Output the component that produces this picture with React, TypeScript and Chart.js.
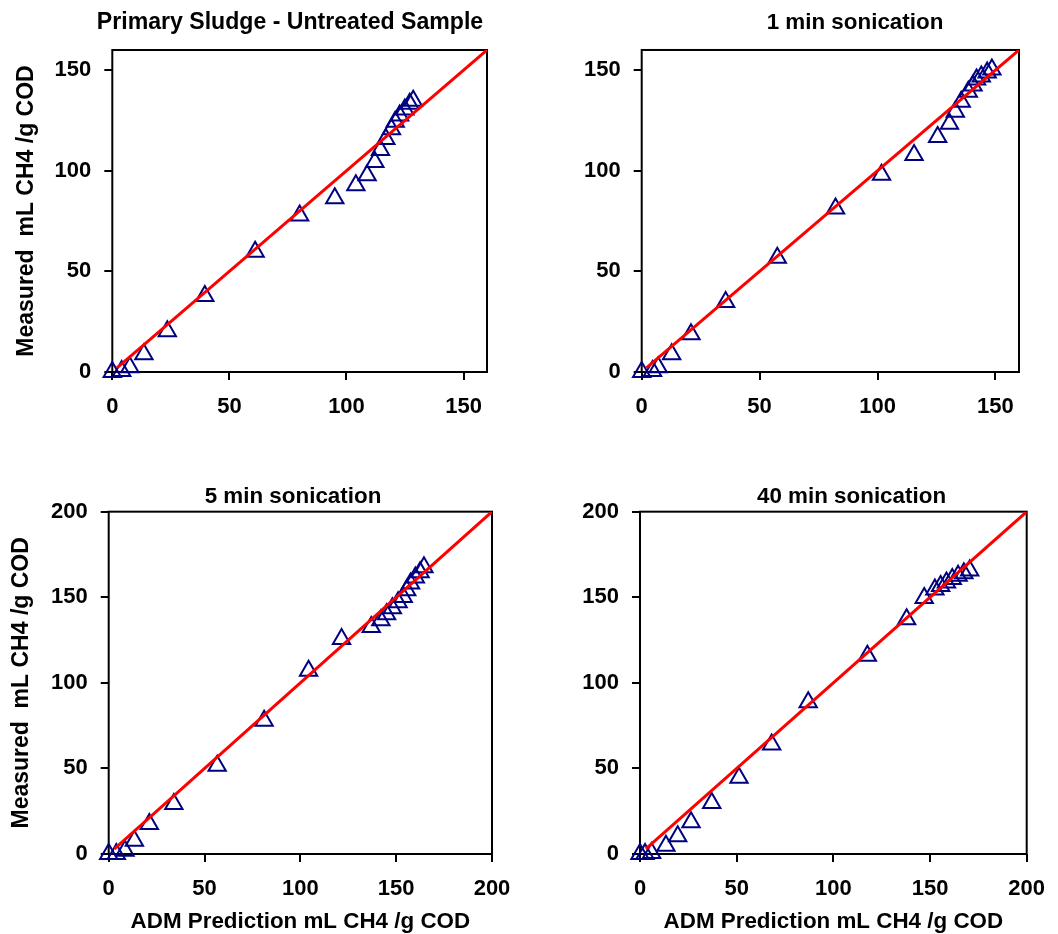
import React, { useEffect, useRef } from "react";
import { Chart, registerables } from "chart.js";

Chart.register(...registerables);

// ---------- text ----------
const panelTitles = [
  "Primary Sludge - Untreated Sample",
  "1 min sonication",
  "5 min sonication",
  "40 min sonication",
];
const yAxisTitle = "Measured  mL CH4 /g COD";
const xAxisTitle = "ADM Prediction mL CH4 /g COD";

// ---------- tick labels / axis ranges ----------
const ticksTopRow = [0, 50, 100, 150];
const ticksBottomRow = [0, 50, 100, 150, 200];
const axisMaxTopRow = 160;
const axisMaxBottomRow = 200;

// ---------- 1:1 ADM line (x = y) ----------
const admLineTopRow = [2, 160];
const admLineBottomRow = [3, 200];

// ---------- data: ADM prediction (x) vs measured (y) ----------
const untreatedPredicted = [0, 4, 7.5, 13.5, 23.5, 39.5, 61, 80, 95, 104, 108.8, 112.1, 114.5, 116.8, 119.2, 120.8, 122.7, 124.9, 127, 128.5];
const untreatedMeasured = [0, 0.5, 2.3, 8.8, 20.3, 37.8, 59.8, 77.8, 86.3, 92.8, 97.8, 104.3, 110.3, 115.8, 120.6, 124.3, 127.5, 130.5, 133.3, 134.8];

const son1Predicted = [0, 4.6, 7, 12.7, 20.9, 35.6, 57.5, 82.2, 101.7, 115.5, 125.5, 130.5, 133, 135.5, 138.5, 140.5, 142, 144, 146.5, 148.5];
const son1Measured = [0, 0.5, 2.4, 8.8, 18.8, 34.8, 56.8, 81.2, 98, 107.8, 116.8, 123.3, 129.3, 134.3, 139.3, 142.3, 145.3, 146.8, 148.8, 150.3];

const son5Predicted = [0, 4, 8.5, 13.4, 21.2, 34, 56.6, 81.1, 104.3, 121.5, 137, 142, 145, 148, 151, 153.7, 155.5, 157.5, 160, 162.5, 164.5];
const son5Measured = [0, 0, 1.9, 7.8, 17.5, 29.2, 51.6, 77.9, 107.1, 125.6, 132.6, 136.6, 140.1, 143.6, 147.1, 150.1, 154.1, 158.1, 161.6, 164.6, 167.6];

const son40Predicted = [0, 2.6, 6, 13.4, 19.5, 26.4, 37.1, 51.2, 68.1, 87, 117.6, 137.9, 147, 152.5, 155.5, 158.5, 161.5, 164.5, 167.5, 170.5];
const son40Measured = [0, 0, 0.6, 4.8, 10.3, 18.5, 29.8, 44.5, 64, 88.6, 115.9, 137.1, 149.6, 154.6, 156.6, 158.6, 160.6, 162.6, 164.1, 165.6];

// ---------- styling ----------
const FONT_FAMILY = "'Liberation Sans', Arial, Helvetica, sans-serif";
const TITLE_SIZE = 22.4;
const Y_TITLE_SIZE = 23;
const TICK_SIZE = 22;
const MARKER_COLOR = "#000080";
const LINE_COLOR = "#ff0000";

type PanelLayout = {
  left: number;
  top: number;
  width: number;
  height: number;
  yAxisWidth: number;
  rightSpace: number;
  xAxisHeight: number;
  titleSize: number;
  titlePadTop: number;
  titlePadBottom: number;
  yTitlePad: number;
  showYTitle: boolean;
  showXTitle: boolean;
};

const layouts: PanelLayout[] = [
  { left: 0, top: 0, width: 580, height: 432, yAxisWidth: 112.3, rightSpace: 93, xAxisHeight: 60, titleSize: 23.1, titlePadTop: 9.2, titlePadBottom: 13.1, yTitlePad: 12.5, showYTitle: true, showXTitle: false },
  { left: 530, top: 0, width: 650, height: 432, yAxisWidth: 111.7, rightSpace: 161, xAxisHeight: 60, titleSize: TITLE_SIZE, titlePadTop: 9.6, titlePadBottom: 13.5, yTitlePad: 12.5, showYTitle: false, showXTitle: false },
  { left: 0, top: 470, width: 586, height: 465, yAxisWidth: 108.7, rightSpace: 94, xAxisHeight: 81, titleSize: TITLE_SIZE, titlePadTop: 13.3, titlePadBottom: 1.5, yTitlePad: 8.2, showYTitle: true, showXTitle: true },
  { left: 530, top: 470, width: 643, height: 465, yAxisWidth: 110, rightSpace: 146.3, xAxisHeight: 81, titleSize: TITLE_SIZE, titlePadTop: 13.3, titlePadBottom: 1.5, yTitlePad: 8.2, showYTitle: false, showXTitle: true },
];

const panelData = [
  { predicted: untreatedPredicted, measured: untreatedMeasured, ticks: ticksTopRow, max: axisMaxTopRow, line: admLineTopRow },
  { predicted: son1Predicted, measured: son1Measured, ticks: ticksTopRow, max: axisMaxTopRow, line: admLineTopRow },
  { predicted: son5Predicted, measured: son5Measured, ticks: ticksBottomRow, max: axisMaxBottomRow, line: admLineBottomRow },
  { predicted: son40Predicted, measured: son40Measured, ticks: ticksBottomRow, max: axisMaxBottomRow, line: admLineBottomRow },
];

const framePlugin = {
  id: "plotFrame",
  beforeDatasetsDraw(chart: any) {
    const { ctx, chartArea } = chart;
    ctx.save();
    ctx.strokeStyle = "#000";
    ctx.lineWidth = 2;
    ctx.strokeRect(chartArea.left, chartArea.top, chartArea.right - chartArea.left, chartArea.bottom - chartArea.top);
    ctx.restore();
  },
};

function Panel({ index }: { index: number }) {
  const ref = useRef<HTMLCanvasElement>(null);
  const L = layouts[index];
  const D = panelData[index];

  useEffect(() => {
    if (!ref.current) return;
    const points = D.predicted.map((x, i) => ({ x, y: D.measured[i] }));
    const linePts = D.line.map((v) => ({ x: v, y: v }));
    const tickSetter = (scale: any) => {
      scale.ticks = D.ticks.map((v) => ({ value: v }));
    };
    const chart = new Chart(ref.current, {
      type: "scatter",
      data: {
        datasets: [
          {
            type: "line",
            label: "ADM",
            data: linePts,
            borderColor: LINE_COLOR,
            borderWidth: 3,
            pointRadius: 0,
            fill: false,
            xAxisID: "x",
            yAxisID: "y",
          } as any,
          {
            type: "scatter",
            label: "Measured",
            data: points,
            pointStyle: "triangle",
            pointRadius: 10,
            pointBackgroundColor: "rgba(0,0,0,0)",
            pointBorderColor: MARKER_COLOR,
            pointBorderWidth: 2,
            showLine: false,
            clip: false,
            xAxisID: "x",
            yAxisID: "y",
          } as any,
        ],
      },
      options: {
        responsive: false,
        animation: false,
        devicePixelRatio: 1,
        layout: { padding: 0 },
        font: { family: FONT_FAMILY },
        plugins: {
          legend: { display: false },
          tooltip: { enabled: false },
          title: {
            display: true,
            text: panelTitles[index],
            color: "#000",
            font: { family: FONT_FAMILY, size: L.titleSize, weight: "bold" },
            padding: { top: L.titlePadTop, bottom: L.titlePadBottom },
          },
        },
        scales: {
          x: {
            type: "linear",
            position: "bottom",
            min: 0,
            max: D.max,
            afterBuildTicks: tickSetter,
            afterFit: (s: any) => {
              s.height = L.xAxisHeight;
            },
            border: { display: false },
            grid: { display: true, drawOnChartArea: false, drawTicks: true, tickLength: 8, color: "#000", lineWidth: 2 },
            ticks: { color: "#000", padding: 14, maxRotation: 0, font: { family: FONT_FAMILY, size: TICK_SIZE, weight: "bold" } },
            title: {
              display: L.showXTitle,
              text: xAxisTitle,
              color: "#000",
              padding: { top: 0, bottom: 0 },
              font: { family: FONT_FAMILY, size: TITLE_SIZE, weight: "bold" },
            },
          },
          y: {
            type: "linear",
            position: "left",
            min: 0,
            max: D.max,
            afterBuildTicks: tickSetter,
            afterFit: (s: any) => {
              s.width = L.yAxisWidth;
            },
            border: { display: false },
            grid: { display: true, drawOnChartArea: false, drawTicks: true, tickLength: 8, color: "#000", lineWidth: 2 },
            ticks: { color: "#000", padding: 13, font: { family: FONT_FAMILY, size: TICK_SIZE, weight: "bold" } },
            title: {
              display: L.showYTitle,
              text: yAxisTitle,
              color: "#000",
              padding: { top: L.yTitlePad, bottom: 0 },
              font: { family: FONT_FAMILY, size: Y_TITLE_SIZE, weight: "bold" },
            },
          },
          yRight: {
            type: "linear",
            position: "right",
            display: true,
            ticks: { display: false },
            grid: { display: false },
            border: { display: false },
            afterFit: (s: any) => {
              s.width = L.rightSpace;
            },
          },
        },
      } as any,
      plugins: [framePlugin],
    });
    return () => chart.destroy();
  }, []);

  return (
    <canvas
      ref={ref}
      width={L.width}
      height={L.height}
      style={{ position: "absolute", left: L.left, top: L.top, width: L.width, height: L.height }}
    />
  );
}

export default function App() {
  return (
    <div
      style={{
        position: "absolute",
        left: 0,
        top: 0,
        width: 1058,
        height: 934,
        overflow: "hidden",
        background: "#fff",
      }}
    >
      {panelTitles.map((_, i) => (
        <Panel key={i} index={i} />
      ))}
    </div>
  );
}
